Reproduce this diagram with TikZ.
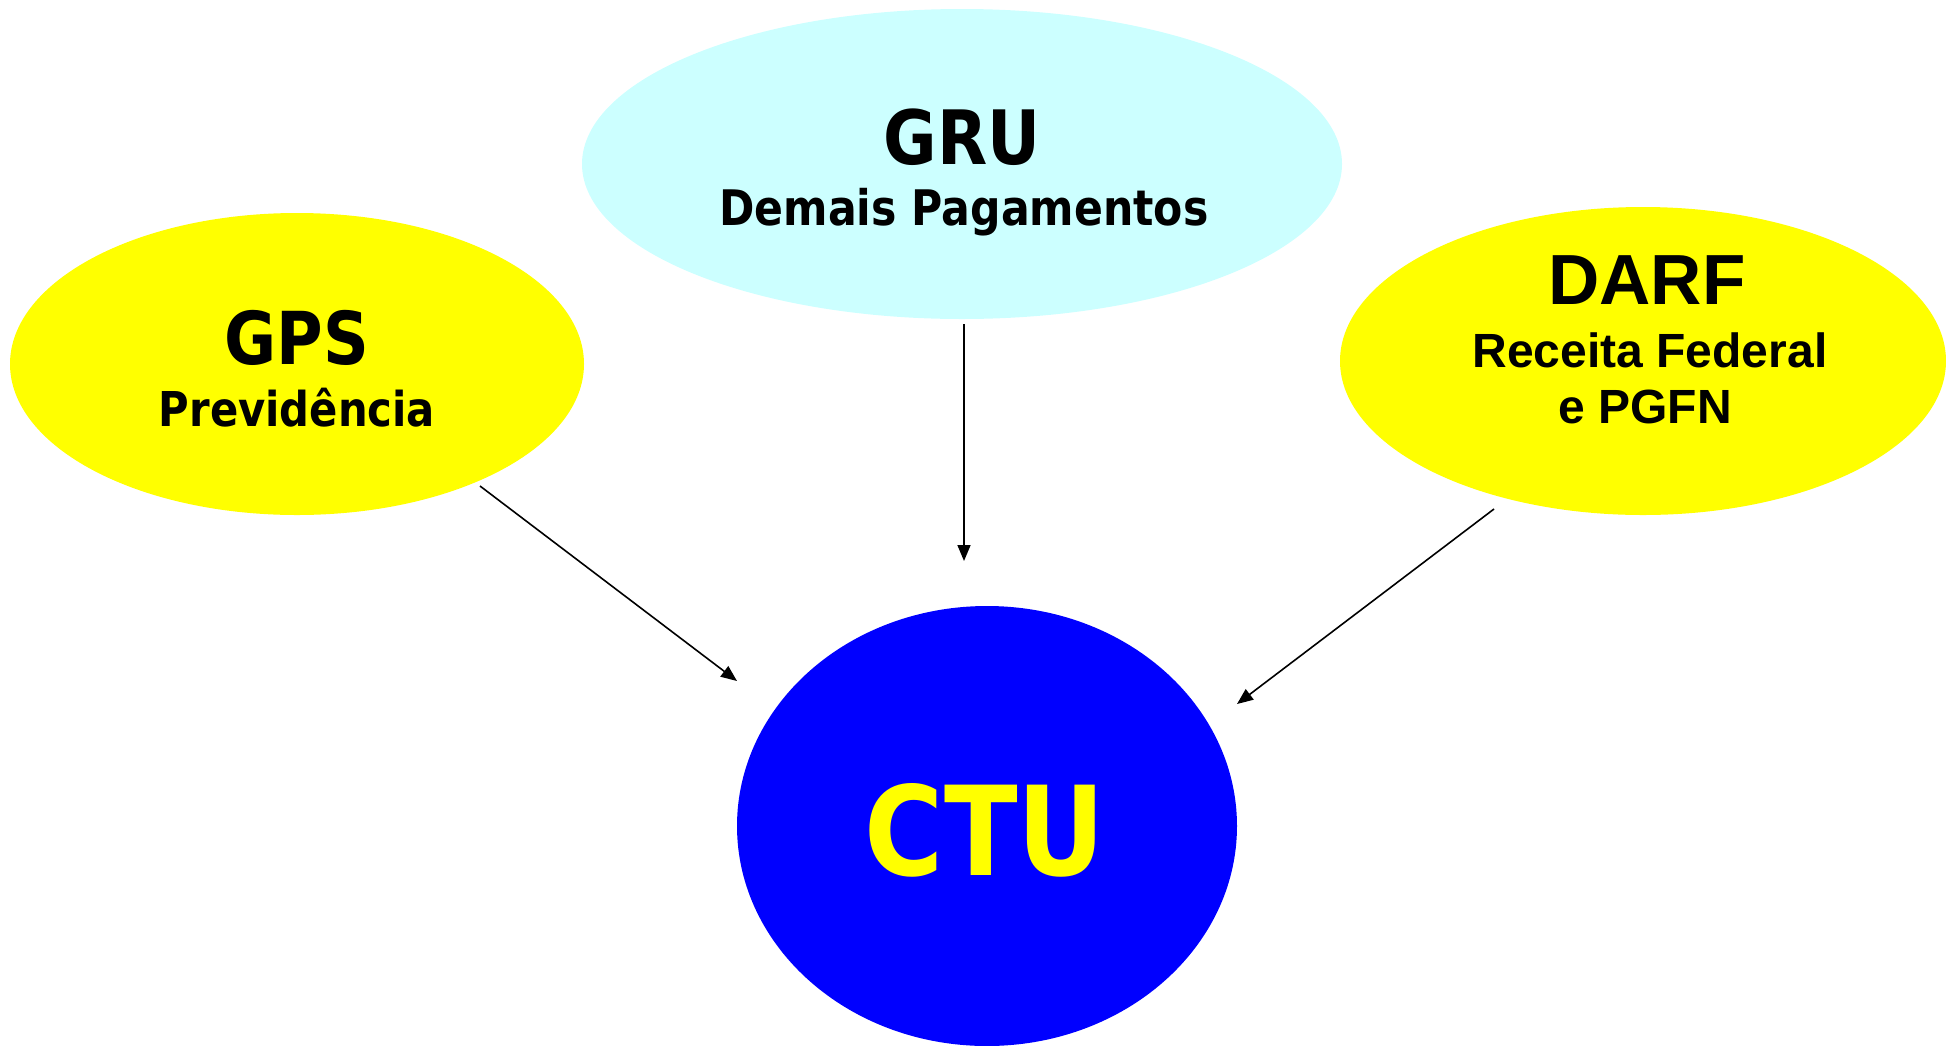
\documentclass[tikz,border=0pt]{standalone}
\usepackage{fontspec}
\setmainfont{DejaVu Sans}
\newfontfamily\tahomalike[FakeStretch=0.87]{DejaVu Sans}
\newfontfamily\ariallike{Liberation Sans}
\usetikzlibrary{shapes.geometric,arrows.meta}
\definecolor{ylw}{HTML}{FFFF00}
\definecolor{lcyan}{HTML}{CCFFFF}
\definecolor{pblue}{HTML}{0000FF}
\tikzset{
  oval/.style={ellipse, draw=none, inner sep=0pt},
  lbl/.style={anchor=base, inner sep=0pt},
  conn/.style={line width=1.6pt, -{Triangle[length=16pt,width=13pt]}}
}
\begin{document}
\begin{tikzpicture}[x=1pt,y=-1pt]
\useasboundingbox (0,0) rectangle (1946,1045);
% ellipses
\node[oval, fill=ylw, minimum width=574pt, minimum height=302pt] (gps) at (297,364) {};
\node[oval, fill=lcyan, minimum width=760pt, minimum height=310pt] (gru) at (962,164) {};
\node[oval, fill=ylw, minimum width=606pt, minimum height=308pt] (darf) at (1643,361) {};
\node[oval, fill=pblue, minimum width=500pt, minimum height=440pt] (ctu) at (987,826) {};
% texts
\node[lbl] (gpsT) at (297,364) {\tahomalike\bfseries\fontsize{73}{80}\selectfont GPS};
\node[lbl] (gpsS) at (297,426) {\tahomalike\bfseries\fontsize{48}{56}\selectfont Previdência};
\node[lbl] (gruT) at (962,164) {\tahomalike\bfseries\fontsize{75}{80}\selectfont GRU};
\node[lbl] (gruS) at (964,225) {\tahomalike\bfseries\fontsize{49}{56}\selectfont Demais Pagamentos};
\node[lbl] (darfT) at (1647,304) {\ariallike\bfseries\fontsize{71}{80}\selectfont DARF};
\node[lbl] (darfS1) at (1650,367) {\ariallike\bfseries\fontsize{48}{56}\selectfont Receita Federal};
\node[lbl] (darfS2) at (1645,423) {\ariallike\bfseries\fontsize{48}{56}\selectfont e PGFN};
\node[lbl, text=ylw] (ctuT) at (985,875) {\tahomalike\bfseries\fontsize{124}{130}\selectfont CTU};
% connector endpoints
\coordinate (gpsOut) at (480,486);
\coordinate (gpsIn) at (737,681);
\coordinate (gruOut) at (964,324);
\coordinate (gruIn) at (964,561);
\coordinate (darfOut) at (1494,509);
\coordinate (darfIn) at (1237,704);
\draw[conn] (gpsOut) -- (gpsIn);
\draw[conn] (gruOut) -- (gruIn);
\draw[conn] (darfOut) -- (darfIn);
\end{tikzpicture}
\end{document}
